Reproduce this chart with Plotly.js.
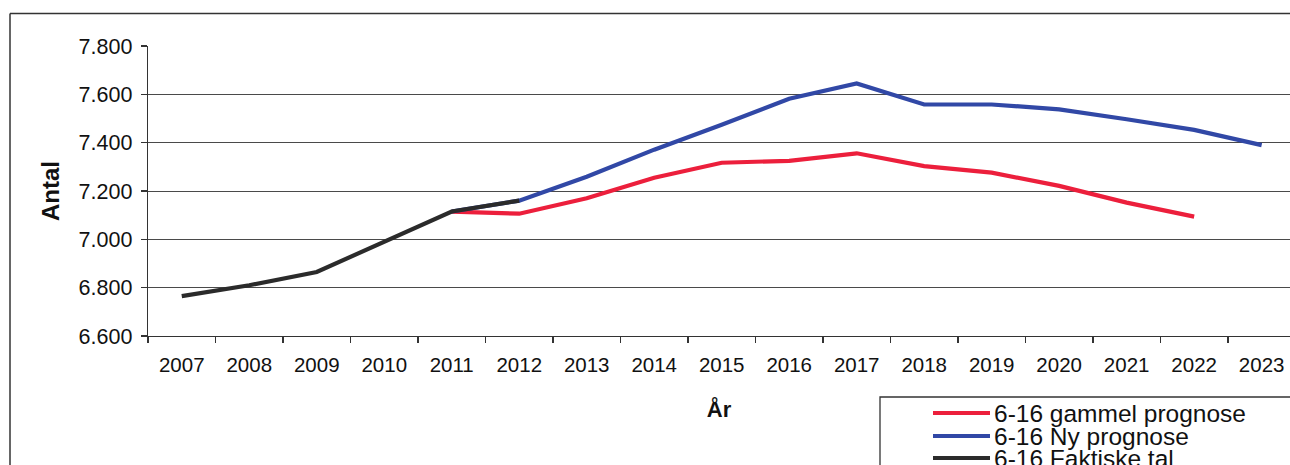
<!DOCTYPE html>
<html>
<head>
<meta charset="utf-8">
<script src="https://cdn.plot.ly/plotly-3.0.1.min.js"></script>
<style>
html,body{margin:0;padding:0;background:#fff;}
#chart{width:1290px;height:465px;}
</style>
</head>
<body>
<div id="chart"></div>
<script>
// ---- data ----
const years = ["2007","2008","2009","2010","2011","2012","2013","2014","2015","2016","2017","2018","2019","2020","2021","2022","2023"];

const oldYears = ["2011","2012","2013","2014","2015","2016","2017","2018","2019","2020","2021","2022"];
const oldValues = [7115, 7106, 7170, 7255, 7317, 7325, 7356, 7303, 7276, 7221, 7152, 7094];

const newYears = ["2011","2012","2013","2014","2015","2016","2017","2018","2019","2020","2021","2022","2023"];
const newValues = [7115, 7160, 7259, 7371, 7474, 7582, 7645, 7558, 7558, 7538, 7497, 7453, 7390];

const actualYears = ["2007","2008","2009","2010","2011","2012"];
const actualValues = [6765, 6810, 6865, 6990, 7115, 7160];

const seriesNames = ["6-16 gammel prognose", "6-16 Ny prognose", "6-16 Faktiske tal"];
const seriesColors = ["#EC1F3C", "#3148A6", "#2B2B2B"];

const yTitle = "Antal";
const xTitle = "År";

// ---- geometry helpers (pixel -> paper) ----
const W = 1290, H = 465;
const M = {l:148, r:0, t:46, b:129};
const PW = W - M.l - M.r, PH = H - M.t - M.b;
const px = x => (x - M.l) / PW;
const py = y => (H - M.b - y) / PH;

const FONT = "Arial, 'Liberation Sans', sans-serif";

const traces = [
  {x: oldYears, y: oldValues, name: seriesNames[0]},
  {x: newYears, y: newValues, name: seriesNames[1]},
  {x: actualYears, y: actualValues, name: seriesNames[2]}
].map((t, i) => Object.assign(t, {
  type: "scatter", mode: "lines", showlegend: false,
  line: {color: seriesColors[i], width: 4.2}
}));

// manual legend (shapes + annotations)
const legendRows = [413, 436, 458];
const shapes = [
  // outer chart frame (top + left edge visible)
  {type:"line", xref:"paper", yref:"paper", x0:px(10), x1:px(1300), y0:py(13.5), y1:py(13.5), line:{color:"#333", width:1.5}},
  {type:"line", xref:"paper", yref:"paper", x0:px(10), x1:px(10), y0:py(13.5), y1:py(480), line:{color:"#333", width:1.5}},
  // legend box
  {type:"rect", xref:"paper", yref:"paper", x0:px(880), x1:px(1310), y0:py(490), y1:py(397), line:{color:"#333", width:1.3}, fillcolor:"rgba(0,0,0,0)"}
];
const annotations = [];
seriesNames.forEach((n, i) => {
  shapes.push({type:"line", xref:"paper", yref:"paper", x0:px(933), x1:px(990), y0:py(legendRows[i]), y1:py(legendRows[i]), line:{color:seriesColors[i], width:4.2}});
  annotations.push({xref:"paper", yref:"paper", x:px(992), y:py(legendRows[i]), xanchor:"left", yanchor:"middle", text:n, showarrow:false, font:{family:FONT, size:24.5, color:"#111"}});
});

const layout = {
  width: W, height: H,
  margin: {l:M.l, r:M.r, t:M.t, b:M.b, autoexpand:false},
  paper_bgcolor: "#fff", plot_bgcolor: "#fff",
  separators: ",.",
  showlegend: false,
  font: {family: FONT, color: "#111"},
  xaxis: {
    type: "category", categoryorder: "array", categoryarray: years,
    range: [-0.5, 16.42],
    tickson: "boundaries", ticks: "outside", ticklen: 6, tickcolor: "#333", tickwidth: 1.3,
    ticklabelstandoff: 10,
    showline: true, linecolor: "#333", linewidth: 1.3,
    showgrid: false, zeroline: false,
    tickfont: {family: FONT, size: 20.5, color: "#111"},
    title: {text: "<b>" + xTitle + "</b>", font: {family: FONT, size: 22, color: "#111"}, standoff: 26},
    automargin: false, fixedrange: true
  },
  yaxis: {
    range: [6600, 7800], dtick: 200, tick0: 6600, tickformat: ",.0f",
    ticks: "outside", ticklen: 6, tickcolor: "#333", tickwidth: 1.3,
    ticklabelstandoff: 4,
    showline: true, linecolor: "#333", linewidth: 1.3,
    showgrid: true, gridcolor: "#4a4a4a", gridwidth: 1, zeroline: false,
    tickfont: {family: FONT, size: 21.5, color: "#111"},
    title: {text: "<b>" + yTitle + "</b>", font: {family: FONT, size: 24, color: "#111"}, standoff: 12},
    automargin: false, fixedrange: true
  },
  shapes: shapes,
  annotations: annotations
};

Plotly.newPlot("chart", traces, layout, {displayModeBar: false, staticPlot: true});
</script>
</body>
</html>
